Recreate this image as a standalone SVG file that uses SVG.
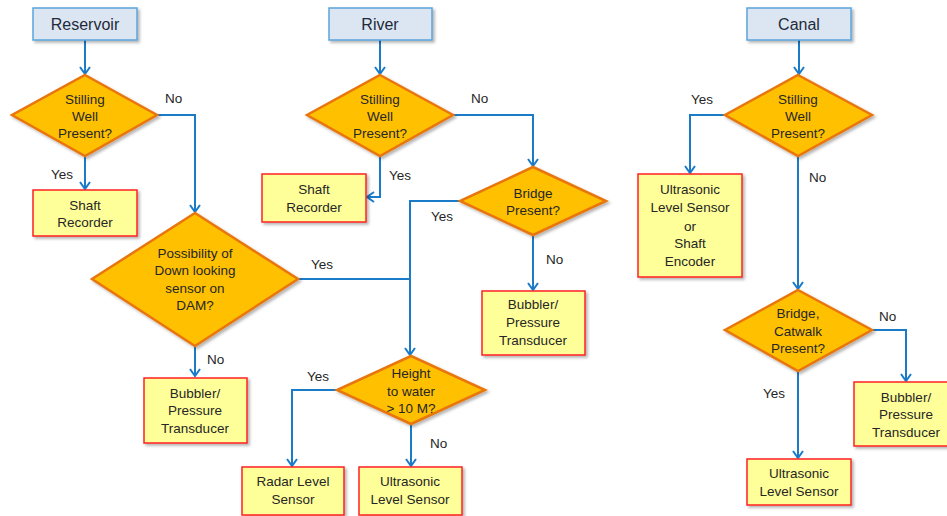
<svg xmlns="http://www.w3.org/2000/svg" width="947" height="516" viewBox="0 0 947 516">
<defs>
<filter id="sh" x="-20%" y="-20%" width="150%" height="150%">
<feDropShadow dx="2" dy="2" stdDeviation="1.5" flood-color="#000" flood-opacity="0.3"/>
</filter>
<marker id="arr" markerWidth="12" markerHeight="12" refX="10" refY="6" orient="auto" markerUnits="userSpaceOnUse">
<path d="M3,1 L10,6 L3,11" fill="none" stroke="#1a7bc9" stroke-width="2"/>
</marker>
</defs>
<style>
text{font-family:"Liberation Sans",Arial,sans-serif;font-size:13.5px;fill:#262626;text-anchor:middle}
.hdr rect{fill:#dce6f2;stroke:#5aa5dc;stroke-width:1.5;filter:url(#sh)}
.hdr text{font-size:16px;fill:#1f2a3a}
.dec polygon{fill:#ffc000;stroke:#e8760e;stroke-width:2.5;filter:url(#sh)}
.box rect{fill:#ffff99;stroke:#f22;stroke-width:1.5;filter:url(#sh)}
.conn path{fill:none;stroke:#1a7bc9;stroke-width:2;marker-end:url(#arr)}
.conn path.nm{marker-end:none}
.lbl{text-anchor:start}
</style>

<g id="connectors" class="conn">
<path d="M85,40 V74"/>
<path d="M85,156 V189"/>
<path d="M157,115 H195 V212"/>
<path d="M195,346 V376"/>
<path class="nm" d="M298,279 H410"/>
<path d="M380,40 V74"/>
<path d="M380,156 V197 H367"/>
<path d="M453,115 H533 V166"/>
<path d="M460,201 H410 V355"/>
<path d="M533,235 V290"/>
<path d="M337,390 H292 V466"/>
<path d="M411,424 V466"/>
<path d="M799,40 V74"/>
<path d="M725,115 H690 V173"/>
<path d="M798,156 V289"/>
<path d="M872,330 H906 V381"/>
<path d="M798,371 V458"/>
</g>

<g id="labels">
<text class="lbl" x="165" y="103">No</text>
<text class="lbl" x="51" y="179">Yes</text>
<text class="lbl" x="311" y="269">Yes</text>
<text class="lbl" x="207" y="364">No</text>
<text class="lbl" x="471" y="103">No</text>
<text class="lbl" x="389" y="180">Yes</text>
<text class="lbl" x="431" y="221">Yes</text>
<text class="lbl" x="546" y="264">No</text>
<text class="lbl" x="307" y="381">Yes</text>
<text class="lbl" x="430" y="448">No</text>
<text class="lbl" x="691" y="104">Yes</text>
<text class="lbl" x="809" y="182">No</text>
<text class="lbl" x="879" y="321">No</text>
<text class="lbl" x="763" y="398">Yes</text>
</g>

<g id="reservoir" class="hdr"><rect x="33" y="8" width="104" height="32"/><text x="85" y="30">Reservoir</text></g>
<g id="river" class="hdr"><rect x="329" y="8" width="103" height="32"/><text x="380" y="30">River</text></g>
<g id="canal" class="hdr"><rect x="747" y="8" width="104" height="32"/><text x="799" y="30">Canal</text></g>

<g id="res-stilling" class="dec"><polygon points="85,75 157,115 85,156 12,115"/>
<text x="85" y="104">Stilling</text><text x="85" y="121">Well</text><text x="85" y="138">Present?</text></g>
<g id="res-shaft" class="box"><rect x="33" y="190" width="104" height="46"/>
<text x="85" y="210">Shaft</text><text x="85" y="227">Recorder</text></g>
<g id="res-dam" class="dec"><polygon points="195,213 298,279 195,346 92,279"/>
<text x="195" y="258">Possibility of</text><text x="195" y="275">Down looking</text><text x="195" y="293">sensor on</text><text x="195" y="310">DAM?</text></g>
<g id="res-bubbler" class="box"><rect x="144" y="378" width="103" height="65"/>
<text x="195" y="398">Bubbler/</text><text x="195" y="415">Pressure</text><text x="195" y="433">Transducer</text></g>

<g id="riv-stilling" class="dec"><polygon points="380,75 453,115 380,156 307,115"/>
<text x="380" y="104">Stilling</text><text x="380" y="121">Well</text><text x="380" y="138">Present?</text></g>
<g id="riv-shaft" class="box"><rect x="262" y="174" width="104" height="48"/>
<text x="314" y="194">Shaft</text><text x="314" y="212">Recorder</text></g>
<g id="riv-bridge" class="dec"><polygon points="533,167 606,201 533,235 460,201"/>
<text x="533" y="198">Bridge</text><text x="533" y="215">Present?</text></g>
<g id="riv-bubbler" class="box"><rect x="482" y="291" width="103" height="64"/>
<text x="533" y="309">Bubbler/</text><text x="533" y="327">Pressure</text><text x="533" y="345">Transducer</text></g>
<g id="riv-height" class="dec"><polygon points="411,356 485,390 411,424 337,390"/>
<text x="411" y="378">Height</text><text x="411" y="396">to water</text><text x="411" y="413">&gt; 10 M?</text></g>
<g id="riv-radar" class="box"><rect x="242" y="467" width="102" height="48"/>
<text x="293" y="486">Radar Level</text><text x="293" y="504">Sensor</text></g>
<g id="riv-ultra" class="box"><rect x="359" y="467" width="103" height="48"/>
<text x="410" y="486">Ultrasonic</text><text x="410" y="504">Level Sensor</text></g>

<g id="can-stilling" class="dec"><polygon points="798,75 872,115 798,156 725,115"/>
<text x="798" y="104">Stilling</text><text x="798" y="121">Well</text><text x="798" y="138">Present?</text></g>
<g id="can-ultra-shaft" class="box"><rect x="638" y="174" width="104" height="103"/>
<text x="690" y="194">Ultrasonic</text><text x="690" y="212">Level Sensor</text><text x="690" y="231">or</text><text x="690" y="248">Shaft</text><text x="690" y="266">Encoder</text></g>
<g id="can-bridge" class="dec"><polygon points="798,290 872,330 798,371 725,330"/>
<text x="798" y="318">Bridge,</text><text x="798" y="336">Catwalk</text><text x="798" y="353">Present?</text></g>
<g id="can-bubbler" class="box"><rect x="854" y="382" width="104" height="64"/>
<text x="906" y="402">Bubbler/</text><text x="906" y="419">Pressure</text><text x="906" y="437">Transducer</text></g>
<g id="can-ultra" class="box"><rect x="747" y="459" width="104" height="46"/>
<text x="799" y="478">Ultrasonic</text><text x="799" y="496">Level Sensor</text></g>
</svg>
